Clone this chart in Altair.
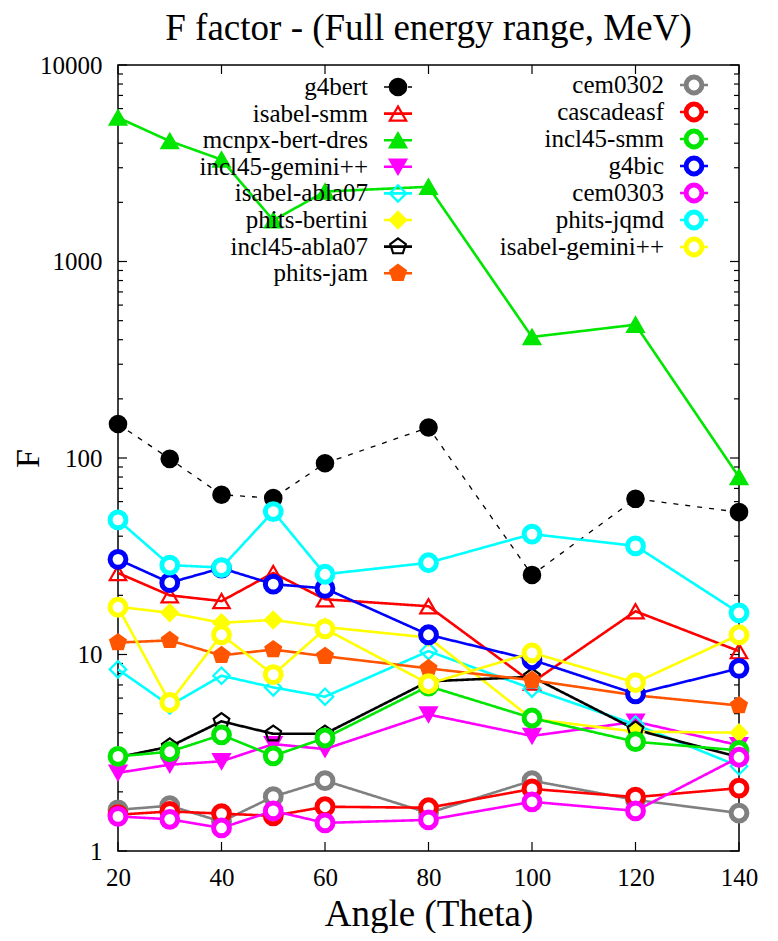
import altair as alt
import pandas as pd

angles = [20, 30, 40, 50, 60, 80, 100, 120, 140]

series_a = ["g4bert", "isabel-smm", "mcnpx-bert-dres", "incl45-gemini++",
            "isabel-abla07", "phits-bertini", "incl45-abla07", "phits-jam"]
series_b = ["cem0302", "cascadeasf", "incl45-smm", "g4bic", "cem0303",
            "phits-jqmd", "isabel-gemini++"]

g4bert = [149, 99, 65, 62.5, 94, 143, 25.4, 62, 53]
isabel_smm = [26, 20, 18.7, 26, 19.1, 17.6, 7.2, 16.6, 10.4]
mcnpx_bert_dres = [5400, 4100, 3300, 1620, 2270, 2400, 413, 477, 80]
incl45_gemini = [2.5, 2.75, 2.86, 3.5, 3.3, 4.95, 3.85, 4.55, 3.45]
isabel_abla07 = [8.4, 5.5, 7.8, 6.8, 6.1, 10.4, 6.7, 4.4, 2.7]
phits_bertini = [17.5, 16.3, 14.5, 15, 13.8, 12.2, 4.7, 4.05, 4.0]
incl45_abla07 = [3.0, 3.4, 4.57, 3.95, 3.95, 7.3, 7.7, 4.15, 3.0]
phits_jam = [11.5, 11.8, 9.9, 10.6, 9.8, 8.5, 7.4, 6.2, 5.5]
cem0302 = [1.62, 1.70, 1.41, 1.89, 2.28, 1.56, 2.28, 1.82, 1.56]
cascadeasf = [1.53, 1.59, 1.55, 1.51, 1.68, 1.66, 2.07, 1.88, 2.09]
incl45_smm = [3.03, 3.2, 3.9, 3.05, 3.76, 6.9, 4.75, 3.6, 3.25]
g4bic = [30.5, 23.2, 27.5, 22.8, 21.7, 12.6, 9.4, 6.3, 8.5]
cem0303 = [1.5, 1.45, 1.31, 1.60, 1.39, 1.44, 1.78, 1.6, 3.0]
phits_jqmd = [48.4, 28.5, 27.7, 53.4, 25.6, 29.3, 41, 35.7, 16.3]
isabel_gemini = [17.4, 5.7, 12.6, 7.9, 13.5, 7.1, 10.2, 7.2, 12.6]

values = {
    "g4bert": g4bert, "isabel-smm": isabel_smm, "mcnpx-bert-dres": mcnpx_bert_dres,
    "incl45-gemini++": incl45_gemini, "isabel-abla07": isabel_abla07,
    "phits-bertini": phits_bertini, "incl45-abla07": incl45_abla07,
    "phits-jam": phits_jam, "cem0302": cem0302, "cascadeasf": cascadeasf,
    "incl45-smm": incl45_smm, "g4bic": g4bic, "cem0303": cem0303,
    "phits-jqmd": phits_jqmd, "isabel-gemini++": isabel_gemini,
}

x_ticks = [20, 40, 60, 80, 100, 120, 140]
y_major = [1, 10, 100, 1000, 10000]
y_minor = [m * 10 ** k for k in range(4) for m in range(2, 10)]

rows = []
for name in series_a + series_b:
    for a, v in zip(angles, values[name]):
        rows.append({"series": name, "angle": a, "F": v,
                     "group": "A" if name in series_a else "B"})
df = pd.DataFrame(rows)

leg_a_df = pd.DataFrame({"series": series_a, "row": list(range(len(series_a)))})
leg_b_df = pd.DataFrame({"series": series_b, "row": list(range(len(series_b)))})

FONT = "Liberation Serif"
W, H = 621, 786

PENT = "M0,-1L0.951,-0.309L0.588,0.809L-0.588,0.809L-0.951,-0.309Z"

GREEN = "#00e600"
strokes_a = ["#000000", "#ff0000", GREEN, "#ff00ff", "#00ffff", "#ffff00", "#000000", "#ff5500"]
fills_a = ["#000000", "transparent", GREEN, "#ff00ff", "transparent", "#ffff00", "transparent", "#ff5500"]
shapes_a = ["circle", "triangle-up", "triangle-up", "triangle-down", "diamond", "diamond", PENT, PENT]

strokes_b = ["#808080", "#ff0000", GREEN, "#0000ff", "#ff00ff", "#00ffff", "#ffff00"]
fills_b = ["#ffffff"] * 7
shapes_b = ["circle"] * 7

xenc = alt.X("angle:Q", scale=alt.Scale(domain=[20, 140], nice=False, zero=False),
             axis=alt.Axis(values=x_ticks, title="Angle (Theta)", tickSize=0, domain=False,
                           grid=False, labelFont=FONT, labelFontSize=25, labelColor="black",
                           labelPadding=14, labelFlush=False, titleFont=FONT, titleFontSize=37,
                           titleFontWeight="normal", titleColor="black", titlePadding=6))
yenc = alt.Y("F:Q", scale=alt.Scale(type="log", domain=[1, 10000], nice=False),
             axis=alt.Axis(values=y_major, format="d", title="F", tickSize=0, domain=False,
                           grid=False, labelFont=FONT, labelFontSize=25, labelColor="black",
                           labelPadding=16, labelFlush=False, titleFont=FONT, titleFontSize=34,
                           titleFontWeight="normal", titleColor="black",
                           titleX=-90, titleY=H / 2, titleBaseline="middle", titleAngle=270))


def scales(names, strokes, fills, shapes):
    return dict(
        stroke=alt.Stroke("series:N", scale=alt.Scale(domain=names, range=strokes), legend=None),
        fill=alt.Fill("series:N", scale=alt.Scale(domain=names, range=fills), legend=None),
        shape=alt.Shape("series:N", scale=alt.Scale(domain=names, range=shapes), legend=None),
    )


def dash_enc():
    return dict(
        strokeDash=alt.condition(alt.datum.series == "g4bert", alt.value([5, 7]), alt.value([1, 0])),
        strokeWidth=alt.condition(alt.datum.series == "g4bert", alt.value(1.3), alt.value(2.6)),
    )


def group(names, strokes, fills, shapes, gname, size, sw):
    base = alt.Chart(df).transform_filter(alt.datum.group == gname)
    line = base.mark_line().encode(
        x=xenc, y=yenc,
        color=alt.Color("series:N", scale=alt.Scale(domain=names, range=strokes), legend=None),
        detail="series:N", **dash_enc(),
    )
    pts = base.mark_point(filled=True, size=size, strokeWidth=sw, opacity=1).encode(
        x=xenc, y=yenc, **scales(names, strokes, fills, shapes),
    )
    return alt.layer(line, pts)


def key(data, names, strokes, fills, shapes, size, sw, first, spacing, sym_x, text_x):
    lscale = alt.Scale(domain=[-first / spacing, (H - first) / spacing],
                       reverse=True, nice=False, zero=False)
    ly = alt.Y("row:Q", scale=lscale, axis=None)
    base = alt.Chart(data)
    seg = base.mark_rule().encode(
        y=ly, x=alt.value(sym_x - 14), x2=alt.value(sym_x + 14),
        color=alt.Color("series:N", scale=alt.Scale(domain=names, range=strokes), legend=None),
        **dash_enc(),
    )
    sym = base.mark_point(filled=True, size=size, strokeWidth=sw, opacity=1).encode(
        y=ly, x=alt.value(sym_x), **scales(names, strokes, fills, shapes),
    )
    txt = base.mark_text(align="right", baseline="middle", font=FONT, fontSize=25,
                         color="black").encode(y=ly, x=alt.value(text_x), text="series:N")
    return alt.layer(seg, sym, txt)


tick_y = pd.DataFrame({"F": y_major})
tick_y_minor = pd.DataFrame({"F": y_minor})
tick_x = pd.DataFrame({"angle": x_ticks})

def rule_y(data, x0, x1):
    return alt.Chart(data).mark_rule(color="black", strokeWidth=1.2).encode(
        y=yenc, x=alt.value(x0), x2=alt.value(x1))

def rule_x(data, y0, y1):
    return alt.Chart(data).mark_rule(color="black", strokeWidth=1.2).encode(
        x=xenc, y=alt.value(y0), y2=alt.value(y1))

ticks = [
    rule_y(tick_y, 0, 9), rule_y(tick_y, W, W - 9),
    rule_y(tick_y_minor, 0, 5), rule_y(tick_y_minor, W, W - 5),
    rule_x(tick_x, H, H - 9), rule_x(tick_x, 0, 9),
]

SIZE_A, SW_A = 270, 2.2
SIZE_B, SW_B = 250, 5

ga = group(series_a, strokes_a, fills_a, shapes_a, "A", SIZE_A, SW_A)
gb = group(series_b, strokes_b, fills_b, shapes_b, "B", SIZE_B, SW_B)

IND = dict(color="independent", stroke="independent", fill="independent", shape="independent")

data_part = alt.layer(*ticks, ga, gb).resolve_scale(**IND)
key_a = key(leg_a_df, series_a, strokes_a, fills_a, shapes_a, SIZE_A, SW_A, 22, 26.6, 280, 250)
key_b = key(leg_b_df, series_b, strokes_b, fills_b, shapes_b, SIZE_B, SW_B, 20, 27.0, 576, 546)

chart = alt.layer(data_part, key_a, key_b).resolve_scale(y="independent", **IND).properties(
    width=W, height=H,
    title=alt.TitleParams("F factor - (Full energy range, MeV)", font=FONT, fontSize=37,
                          fontWeight="normal", color="black", anchor="middle", offset=5),
    padding={"left": 110, "top": 57, "right": 31, "bottom": 82},
    autosize=alt.AutoSizeParams(type="none"),
).configure_view(stroke="black", strokeWidth=1.5)

chart.save("out.html", embed_options={"renderer": "svg", "actions": False})
